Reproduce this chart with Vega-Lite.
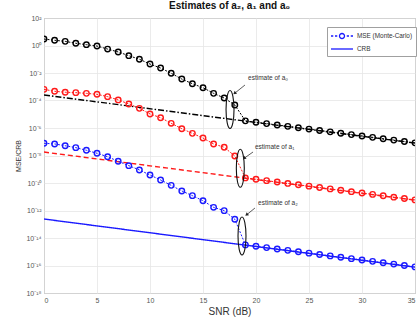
{
  "$schema": "https://vega.github.io/schema/vega-lite/v6.json",
  "width": 371,
  "height": 275,
  "autosize": {"type": "none"},
  "padding": {"left": 44, "top": 18, "right": 2, "bottom": 27},
  "background": "white",
  "config": {
    "font": "Liberation Sans",
    "view": {"stroke": "#8a8a8a", "strokeWidth": 1},
    "axis": {"labelFont": "Liberation Sans", "titleFont": "Liberation Sans", "labelColor": "#555", "titleColor": "#333", "gridColor": "#e6e6e6", "gridWidth": 0.8, "domain": false, "ticks": false}
  },
  "title": {"text": "Estimates of a₂, a₁ and a₀", "fontSize": 10, "fontWeight": "bold", "color": "#111", "anchor": "middle", "offset": 3, "font": "Liberation Sans"},
  "datasets": {
    "mse": [
      {"s": "a0", "snr": 0, "v": 2.95}, {"s": "a0", "snr": 1, "v": 2.40}, {"s": "a0", "snr": 2, "v": 2.00}, {"s": "a0", "snr": 3, "v": 1.45},
      {"s": "a0", "snr": 4, "v": 1.15}, {"s": "a0", "snr": 5, "v": 0.912}, {"s": "a0", "snr": 6, "v": 0.55}, {"s": "a0", "snr": 7, "v": 0.339},
      {"s": "a0", "snr": 8, "v": 0.182}, {"s": "a0", "snr": 9, "v": 0.100}, {"s": "a0", "snr": 10, "v": 0.0447}, {"s": "a0", "snr": 11, "v": 0.0229},
      {"s": "a0", "snr": 12, "v": 0.00955}, {"s": "a0", "snr": 13, "v": 0.00363}, {"s": "a0", "snr": 14, "v": 0.00166}, {"s": "a0", "snr": 15, "v": 8.51e-4},
      {"s": "a0", "snr": 16, "v": 3.31e-4}, {"s": "a0", "snr": 17, "v": 1.51e-4}, {"s": "a0", "snr": 18, "v": 4.68e-5}, {"s": "a0", "snr": 19, "v": 3.31e-6},
      {"s": "a0", "snr": 20, "v": 2.63e-6}, {"s": "a0", "snr": 21, "v": 2.09e-6}, {"s": "a0", "snr": 22, "v": 1.66e-6}, {"s": "a0", "snr": 23, "v": 1.32e-6},
      {"s": "a0", "snr": 24, "v": 1.05e-6}, {"s": "a0", "snr": 25, "v": 8.32e-7}, {"s": "a0", "snr": 26, "v": 6.61e-7}, {"s": "a0", "snr": 27, "v": 5.25e-7},
      {"s": "a0", "snr": 28, "v": 4.17e-7}, {"s": "a0", "snr": 29, "v": 3.31e-7}, {"s": "a0", "snr": 30, "v": 2.63e-7}, {"s": "a0", "snr": 31, "v": 2.09e-7},
      {"s": "a0", "snr": 32, "v": 1.66e-7}, {"s": "a0", "snr": 33, "v": 1.32e-7}, {"s": "a0", "snr": 34, "v": 1.05e-7}, {"s": "a0", "snr": 35, "v": 8.32e-8},
      {"s": "a1", "snr": 0, "v": 6.46e-4}, {"s": "a1", "snr": 1, "v": 4.68e-4}, {"s": "a1", "snr": 2, "v": 3.98e-4}, {"s": "a1", "snr": 3, "v": 3.72e-4},
      {"s": "a1", "snr": 4, "v": 3.31e-4}, {"s": "a1", "snr": 5, "v": 2.82e-4}, {"s": "a1", "snr": 6, "v": 1.91e-4}, {"s": "a1", "snr": 7, "v": 1.10e-4},
      {"s": "a1", "snr": 8, "v": 5.62e-5}, {"s": "a1", "snr": 9, "v": 2.69e-5}, {"s": "a1", "snr": 10, "v": 1.05e-5}, {"s": "a1", "snr": 11, "v": 5.62e-6},
      {"s": "a1", "snr": 12, "v": 2.19e-6}, {"s": "a1", "snr": 13, "v": 8.91e-7}, {"s": "a1", "snr": 14, "v": 4.07e-7}, {"s": "a1", "snr": 15, "v": 1.86e-7},
      {"s": "a1", "snr": 16, "v": 6.92e-8}, {"s": "a1", "snr": 17, "v": 3.98e-8}, {"s": "a1", "snr": 18, "v": 9.12e-9}, {"s": "a1", "snr": 19, "v": 2.34e-10},
      {"s": "a1", "snr": 20, "v": 1.86e-10}, {"s": "a1", "snr": 21, "v": 1.48e-10}, {"s": "a1", "snr": 22, "v": 1.17e-10}, {"s": "a1", "snr": 23, "v": 9.33e-11},
      {"s": "a1", "snr": 24, "v": 7.41e-11}, {"s": "a1", "snr": 25, "v": 5.89e-11}, {"s": "a1", "snr": 26, "v": 4.68e-11}, {"s": "a1", "snr": 27, "v": 3.72e-11},
      {"s": "a1", "snr": 28, "v": 2.95e-11}, {"s": "a1", "snr": 29, "v": 2.34e-11}, {"s": "a1", "snr": 30, "v": 1.86e-11}, {"s": "a1", "snr": 31, "v": 1.48e-11},
      {"s": "a1", "snr": 32, "v": 1.17e-11}, {"s": "a1", "snr": 33, "v": 9.33e-12}, {"s": "a1", "snr": 34, "v": 7.41e-12}, {"s": "a1", "snr": 35, "v": 5.89e-12},
      {"s": "a2", "snr": 0, "v": 7.76e-8}, {"s": "a2", "snr": 1, "v": 6.92e-8}, {"s": "a2", "snr": 2, "v": 5.13e-8}, {"s": "a2", "snr": 3, "v": 3.72e-8},
      {"s": "a2", "snr": 4, "v": 2.40e-8}, {"s": "a2", "snr": 5, "v": 1.45e-8}, {"s": "a2", "snr": 6, "v": 8.13e-9}, {"s": "a2", "snr": 7, "v": 3.80e-9},
      {"s": "a2", "snr": 8, "v": 1.82e-9}, {"s": "a2", "snr": 9, "v": 8.91e-10}, {"s": "a2", "snr": 10, "v": 3.80e-10}, {"s": "a2", "snr": 11, "v": 1.66e-10},
      {"s": "a2", "snr": 12, "v": 6.76e-11}, {"s": "a2", "snr": 13, "v": 2.63e-11}, {"s": "a2", "snr": 14, "v": 1.20e-11}, {"s": "a2", "snr": 15, "v": 5.13e-12},
      {"s": "a2", "snr": 16, "v": 1.70e-12}, {"s": "a2", "snr": 17, "v": 9.77e-13}, {"s": "a2", "snr": 18, "v": 2.29e-13}, {"s": "a2", "snr": 19, "v": 3.16e-15},
      {"s": "a2", "snr": 20, "v": 2.51e-15}, {"s": "a2", "snr": 21, "v": 2.00e-15}, {"s": "a2", "snr": 22, "v": 1.58e-15}, {"s": "a2", "snr": 23, "v": 1.26e-15},
      {"s": "a2", "snr": 24, "v": 1.00e-15}, {"s": "a2", "snr": 25, "v": 7.94e-16}, {"s": "a2", "snr": 26, "v": 6.31e-16}, {"s": "a2", "snr": 27, "v": 5.01e-16},
      {"s": "a2", "snr": 28, "v": 3.98e-16}, {"s": "a2", "snr": 29, "v": 3.16e-16}, {"s": "a2", "snr": 30, "v": 2.51e-16}, {"s": "a2", "snr": 31, "v": 2.00e-16},
      {"s": "a2", "snr": 32, "v": 1.58e-16}, {"s": "a2", "snr": 33, "v": 1.26e-16}, {"s": "a2", "snr": 34, "v": 1.00e-16}, {"s": "a2", "snr": 35, "v": 7.94e-17}
    ],
    "crb": [
      {"s": "a0", "snr": 0, "v": 2.51e-4}, {"s": "a0", "snr": 35, "v": 7.94e-8},
      {"s": "a1", "snr": 0, "v": 1.78e-8}, {"s": "a1", "snr": 35, "v": 5.62e-12},
      {"s": "a2", "snr": 0, "v": 2.40e-13}, {"s": "a2", "snr": 35, "v": 7.59e-17}
    ],
    "ell": [
      {"snr": 17.55, "v": 2.21e-5}, {"snr": 18.52, "v": 1.17e-9}, {"snr": 18.68, "v": 1.41e-14}
    ],
    "arrows": [
      {"snr": 18.96, "v": 1.34e-3, "snr2": 18.02, "v2": 3.51e-4},
      {"snr": 19.72, "v": 1.80e-8, "snr2": 18.92, "v2": 6.61e-9},
      {"snr": 19.9, "v": 1.51e-12, "snr2": 19.15, "v2": 5.13e-13}
    ],
    "notes": [
      {"snr": 19.25, "v": 4.33e-3, "t": "estimate of a₀"},
      {"snr": 19.9, "v": 4.17e-8, "t": "estimate of a₁"},
      {"snr": 20.19, "v": 3.55e-12, "t": "estimate of a₂"}
    ],
    "leg": [
      {"k": "MSE (Monte-Carlo)", "snr": -10, "v": 1},
      {"k": "CRB", "snr": -10, "v": 1}
    ]
  },
  "encoding": {
    "x": {"field": "snr", "type": "quantitative", "scale": {"domain": [0, 35], "nice": false, "zero": false},
      "axis": {"values": [0, 5, 10, 15, 20, 25, 30, 35], "title": "SNR (dB)", "titleFontSize": 10, "titleFontWeight": "normal", "titlePadding": 3, "labelFontSize": 7, "labelPadding": 3, "grid": true}},
    "y": {"field": "v", "type": "quantitative", "scale": {"type": "log", "domain": [1e-18, 100], "nice": false},
      "axis": {"values": [100, 1, 1e-2, 1e-4, 1e-6, 1e-8, 1e-10, 1e-12, 1e-14, 1e-16, 1e-18],
        "labelExpr": "'10' + replace(replace(replace(replace(replace(replace(replace(replace('' + round(log(datum.value)/LN10), '-', '⁻'), '1', '¹'), '0', '⁰'), '2', '²'), '4', '⁴'), '6', '⁶'), '8', '⁸'), '3', '³')",
        "title": "MSE/CRB", "titleFontSize": 7, "titleFontWeight": "normal", "labelFontSize": 7, "labelPadding": 3, "grid": true}}
  },
  "layer": [
    {
      "data": {"name": "crb"},
      "mark": {"type": "line", "strokeWidth": 1.4, "clip": true},
      "encoding": {
        "color": {"field": "s", "type": "nominal", "scale": {"domain": ["a0", "a1", "a2"], "range": ["#000000", "#ff1a1a", "#1a1aff"]}, "legend": null},
        "strokeDash": {"field": "s", "type": "nominal", "scale": {"domain": ["a0", "a1", "a2"], "range": [[6, 2, 1.5, 2], [5, 3], [1, 0]]}, "legend": null}
      }
    },
    {
      "data": {"name": "mse"},
      "mark": {"type": "line", "strokeWidth": 1, "strokeDash": [2, 1.5], "clip": true},
      "encoding": {
        "color": {"field": "s", "type": "nominal", "legend": null}
      }
    },
    {
      "data": {"name": "mse"},
      "mark": {"type": "point", "shape": "circle", "filled": false, "size": 30, "strokeWidth": 1.4, "opacity": 1, "clip": true},
      "encoding": {
        "color": {"field": "s", "type": "nominal", "legend": null}
      }
    },
    {
      "data": {"name": "ell"},
      "mark": {"type": "point", "filled": false, "color": "#111", "strokeWidth": 1.1, "opacity": 1, "size": 1444,
        "shape": "M0,-1C0.116,-1 0.21,-0.552 0.21,0C0.21,0.552 0.116,1 0,1C-0.116,1 -0.21,0.552 -0.21,0C-0.21,-0.552 -0.116,-1 0,-1Z"},
      "encoding": {}
    },
    {
      "data": {"name": "arrows"},
      "mark": {"type": "rule", "color": "#333", "strokeWidth": 0.8},
      "encoding": {
        "x2": {"field": "snr2"},
        "y2": {"field": "v2"}
      }
    },
    {
      "data": {"name": "arrows"},
      "mark": {"type": "point", "shape": "triangle", "filled": true, "color": "#222", "size": 14, "angle": 231, "opacity": 1},
      "encoding": {
        "x": {"field": "snr2", "type": "quantitative"},
        "y": {"field": "v2", "type": "quantitative"}
      }
    },
    {
      "data": {"name": "notes"},
      "mark": {"type": "text", "align": "left", "baseline": "middle", "fontSize": 6.5, "color": "#333", "font": "Liberation Sans"},
      "encoding": {"text": {"field": "t"}}
    },
    {
      "data": {"name": "leg"},
      "mark": {"type": "point", "filled": false, "color": "#1a1aff", "clip": true, "strokeWidth": 1.2},
      "encoding": {
        "shape": {"field": "k", "type": "nominal",
          "scale": {"domain": ["MSE (Monte-Carlo)", "CRB"],
            "range": ["M-2.2,0H-1.75M-1.4,0H-0.95M0.95,0H1.4M1.75,0H2.2M0.5,0C0.5,0.276 0.276,0.5 0,0.5C-0.276,0.5 -0.5,0.276 -0.5,0C-0.5,-0.276 -0.276,-0.5 0,-0.5C0.276,-0.5 0.5,-0.276 0.5,0Z", "M-2.2,0H2.2"]},
          "legend": {"title": null, "orient": "none", "legendX": 283, "legendY": 9, "fillColor": "white", "strokeColor": "#a0a0a0", "padding": 3,
            "symbolSize": 100, "symbolOffset": 6, "symbolStrokeWidth": 1.3, "symbolStrokeColor": "#1a1aff", "symbolFillColor": "transparent", "symbolOpacity": 1,
            "labelFontSize": 6.4, "labelColor": "#333", "labelFont": "Liberation Sans", "labelOffset": 9, "rowPadding": 1}}
      }
    }
  ]
}
